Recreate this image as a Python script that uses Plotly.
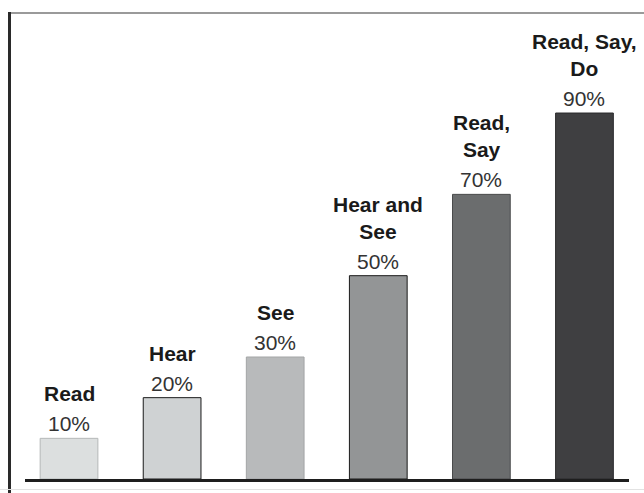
import plotly.graph_objects as go

categories = ["Read", "Hear", "See", "Hear and See", "Read, Say", "Read, Say, Do"]
name_labels = ["Read", "Hear", "See", "Hear and<br>See", "Read,<br>Say", "Read, Say,<br>Do"]
values = [10, 20, 30, 50, 70, 90]
pct_labels = ["10%", "20%", "30%", "50%", "70%", "90%"]

bar_colors = ["#dcdfdf", "#cfd2d3", "#b8babb", "#939596", "#6b6d6e", "#3f3f41"]
edge_colors = ["#b5b8b8", "#1a1a1a", "#a3a5a6", "#1a1a1a", "#4a4b4c", "#2a2a2c"]

W, H = 644, 493
ml, mr, mt, mb = 25, 15, 13, 14
pw = W - ml - mr
ph = H - mt - mb

fig = go.Figure()
fig.add_trace(go.Bar(
    x=list(range(len(categories))),
    y=values,
    width=0.56,
    marker=dict(color=bar_colors, line=dict(color=edge_colors, width=1)),
    hoverinfo="skip",
))

font_family = "Liberation Sans, Arial, sans-serif"
annotations = []
for i, (nm, v, p) in enumerate(zip(name_labels, values, pct_labels)):
    annotations.append(dict(
        x=i, y=v, xref="x", yref="y", text=p, showarrow=False,
        yanchor="bottom", xanchor="center", yshift=1,
        font=dict(family=font_family, size=21, color="#333333"),
    ))
    annotations.append(dict(
        x=i, y=v, xref="x", yref="y", text="<b>" + nm + "</b>", showarrow=False,
        yanchor="bottom", xanchor="center", yshift=31,
        font=dict(family=font_family, size=21, color="#1a1a1a"),
    ))

def px_x(px):
    return (px - ml) / pw

def px_y(py):
    return (H - mb - py) / ph

shapes = [
    dict(type="line", xref="paper", yref="paper", x0=px_x(8), x1=px_x(644),
         y0=px_y(13), y1=px_y(13), line=dict(color="#9a9a9a", width=2)),
    dict(type="line", xref="paper", yref="paper", x0=px_x(9.5), x1=px_x(9.5),
         y0=px_y(12), y1=px_y(493), line=dict(color="#2a2a2a", width=3)),
    dict(type="line", xref="paper", yref="paper", x0=px_x(0), x1=px_x(644),
         y0=px_y(489.5), y1=px_y(489.5), line=dict(color="#e2e2e2", width=1)),
]

fig.update_layout(
    width=W, height=H,
    margin=dict(l=ml, r=mr, t=mt, b=mb, pad=0),
    paper_bgcolor="white", plot_bgcolor="white",
    showlegend=False,
    xaxis=dict(range=[-0.427, 5.432], showgrid=False, zeroline=False,
               showticklabels=False, ticks="", showline=True,
               linecolor="#1e1e1e", linewidth=3, fixedrange=True),
    yaxis=dict(range=[0, 114.6], showgrid=False, zeroline=False,
               showticklabels=False, ticks="", showline=False, fixedrange=True),
    annotations=annotations,
    shapes=shapes,
)

fig.write_html("out.html", config={"displayModeBar": False})
